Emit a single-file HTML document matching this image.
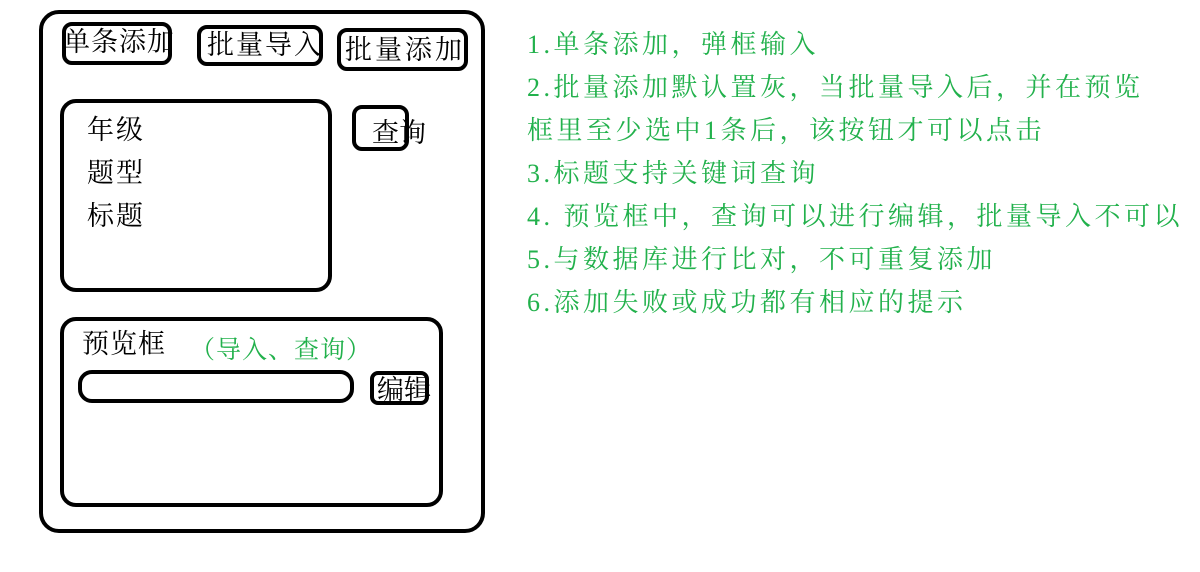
<!DOCTYPE html>
<html><head><meta charset="utf-8"><style>
body{margin:0;width:1200px;height:572px;background:#fff;position:relative;overflow:hidden;font-family:"Liberation Serif","Noto Serif CJK SC",serif;}
.b{position:absolute;border:4px solid #000;box-sizing:border-box;}
.t{position:absolute;white-space:nowrap;line-height:1;color:#000;font-size:27px;}
.g{position:absolute;white-space:nowrap;line-height:1;color:#22b14c;font-size:26px;letter-spacing:3.5px;left:527px;}
</style></head><body>
<div class="b" style="left:39px;top:10px;width:446px;height:523px;border-radius:20px"></div>
<div class="b" style="left:62px;top:22px;width:110px;height:43px;border-radius:10px"></div>
<div class="t" style="left:63px;top:29px;letter-spacing:1px">单条添加</div>
<div class="b" style="left:197px;top:25px;width:126px;height:41px;border-radius:10px"></div>
<div class="t" style="left:207px;top:32px;letter-spacing:2px">批量导入</div>
<div class="b" style="left:337px;top:28px;width:131px;height:43px;border-radius:10px"></div>
<div class="t" style="left:345px;top:37px;letter-spacing:3px">批量添加</div>
<div class="b" style="left:60px;top:99px;width:272px;height:193px;border-radius:16px"></div>
<div class="t" style="left:87px;top:117px;letter-spacing:2px">年级</div>
<div class="t" style="left:87px;top:160px;letter-spacing:2px">题型</div>
<div class="t" style="left:87px;top:203px;letter-spacing:2px">标题</div>
<div class="b" style="left:352px;top:105px;width:57px;height:46px;border-radius:10px"></div>
<div class="t" style="left:372px;top:120px;letter-spacing:0px">查询</div>
<div class="b" style="left:60px;top:317px;width:383px;height:190px;border-radius:16px"></div>
<div class="t" style="left:82px;top:331px;letter-spacing:1px">预览框</div>
<div class="t" style="left:190px;top:338px;color:#22b14c;font-size:25px;letter-spacing:1px">（导入、查询）</div>
<div class="b" style="left:78px;top:370px;width:276px;height:33px;border-radius:14px"></div>
<div class="b" style="left:370px;top:371px;width:59px;height:34px;border-radius:8px"></div>
<div class="t" style="left:377px;top:377px;letter-spacing:0px">编辑</div>
<div class="g" style="top:32px">1.单条添加，弹框输入</div>
<div class="g" style="top:75px">2.批量添加默认置灰，当批量导入后，并在预览</div>
<div class="g" style="top:118px">框里至少选中1条后，该按钮才可以点击</div>
<div class="g" style="top:161px">3.标题支持关键词查询</div>
<div class="g" style="top:204px">4. 预览框中，查询可以进行编辑，批量导入不可以</div>
<div class="g" style="top:247px">5.与数据库进行比对，不可重复添加</div>
<div class="g" style="top:290px">6.添加失败或成功都有相应的提示</div>
</body></html>
